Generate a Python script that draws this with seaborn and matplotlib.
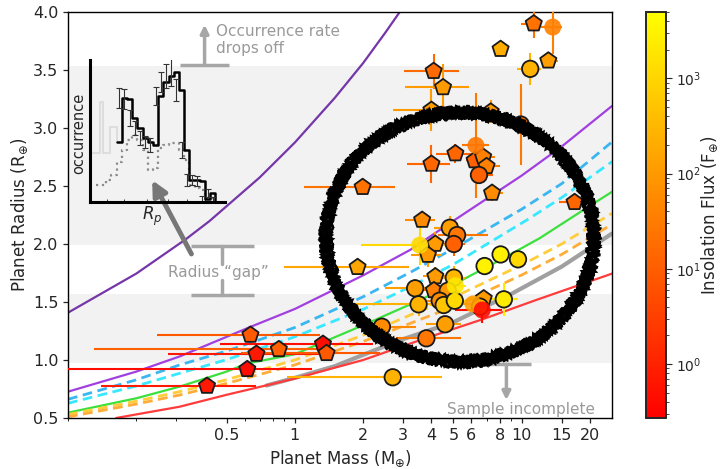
import matplotlib
matplotlib.use("Agg")
import matplotlib.pyplot as plt
import seaborn as sns
import pandas as pd
from matplotlib.colors import LogNorm
from matplotlib.cm import ScalarMappable
from matplotlib.patches import Ellipse
from matplotlib.ticker import FixedLocator, FixedFormatter, NullFormatter, LogLocator, LogFormatterMathtext

sns.set_style("ticks")
plt.rcParams["font.family"] = ["DejaVu Sans"]
plt.rcParams["mathtext.fontset"] = "dejavusans"

# ---------------- planets (mass in M_earth, radius in R_earth, flux in S_earth) ----------------
# pentagons, black edge
pent_mass = [11.3, 8.07, 13.1, 4.09, 4.5, 4.0, 7.3, 5.1, 4.0, 6.2, 6.76, 7.0, 7.4, 17.1, 1.99,
             1.89, 3.64, 4.16, 3.86, 4.16, 4.1, 6.8, 0.637, 0.677, 0.85, 0.617, 0.41, 1.33, 1.38]
pent_radius = [3.90, 3.68, 3.58, 3.49, 3.35, 3.155, 3.14, 2.78, 2.69, 2.72, 2.75, 2.67, 2.44, 2.36, 2.49,
               1.80, 2.207, 2.0, 1.905, 1.72, 1.60, 1.53, 1.216, 1.052, 1.092, 0.92, 0.776, 1.138, 1.058]
pent_flux = [22, 200, 120, 17, 100, 100, 100, 14, 14, 11, 37, 37, 60, 14, 22,
             160, 60, 100, 100, 100, 37, 100, 8.3, 0.72, 11, 0.44, 0.72, 0.44, 8.3]
pent_mass_lo = [1.4, 0, 1.0, 1.07, 1.43, 1.28, 0.8, 0.9, 0.88, 0.5, 0.6, 0.5, 0.6, 2.5, 0.89,
                0.99, 0.57, 0.5, 0.6, 0.5, 0.6, 0.8, 0.39, 0.4, 0.72, 0.517, 0.27, 0.86, 0.8]
pent_mass_hi = [0.9, 0, 1.3, 1.19, 1.34, 1.38, 0.8, 0.9, 0.85, 0.5, 0.9, 1.0, 0.9, 2.5, 0.78,
                1.3, 0.52, 0.5, 0.6, 0.5, 0.6, 0.8, 0.65, 0.6, 0.44, 0.57, 0.267, 0.88, 1.0]
pent_radius_err = [0.12, 0, 0.06, 0.15, 0.2, 0.18, 0.1, 0.08, 0.16, 0.1, 0.1, 0.07, 0.07, 0.05, 0.05,
                   0.05, 0.06, 0.1, 0.1, 0.08, 0.08, 0.06, 0.04, 0.03, 0.03, 0.03, 0.03, 0.03, 0.03]

# circles, black edge
circ_mass = [10.9, 9.9, 6.48, 4.82, 5.19, 5.02, 5.02, 6.86, 8.07, 9.63, 3.39, 4.72, 3.51, 4.35,
             4.53, 5.07, 6.54, 8.34, 4.6, 3.8, 2.42, 2.7]
circ_radius = [3.51, 3.03, 2.595, 2.14, 2.077, 2.0, 1.71, 1.81, 1.91, 1.868, 1.618, 1.597, 1.48, 1.511,
               1.474, 1.511, 1.46, 1.523, 1.308, 1.187, 1.287, 0.851]
circ_flux = [263, 27, 11, 120, 27, 11, 320, 3000, 3000, 1140, 120, 100, 263, 60,
             500, 1140, 500, 2270, 120, 27, 60, 263]
circ_mass_lo = [1.4, 0.9, 0.5, 0.7, 0.9, 0.6, 0.6, 0.5, 0.6, 0.7, 0.9, 0.6, 1.9, 0.6,
                0.6, 0.6, 0.5, 1.2, 0.8, 1.0, 0.5, 1.78]
circ_mass_hi = [1.2, 1.1, 1.0, 0.7, 1.9, 0.6, 0.6, 0.5, 0.6, 0.7, 0.9, 0.6, 1.0, 0.6,
                0.6, 0.6, 0.5, 1.3, 0.8, 1.6, 1.0, 1.75]
circ_radius_err = [0.14, 0.35, 0.08, 0.1, 0.1, 0.1, 0.1, 0.05, 0.05, 0.05, 0.08, 0.08, 0.1, 0.08,
                   0.08, 0.08, 0.05, 0.14, 0.05, 0.05, 0.05, 0.02]

# circles without edge
bare_mass = [13.7, 6.28, 3.55, 5.1, 6.1, 6.7]
bare_radius = [3.87, 2.85, 1.99, 1.64, 1.483, 1.431]
bare_flux = [37, 27, 1140, 2000, 120, 0.44]
bare_mass_lo = [1.6, 0.8, 1.6, 0.6, 0.6, 1.6]
bare_mass_hi = [1.4, 0.9, 1.8, 0.6, 0.6, 1.5]
bare_radius_err = [0.23, 0.45, 0.17, 0.08, 0.06, 0.11]

# ---------------- composition curves ----------------
h2_env_m = [0.1, 0.2, 0.33, 0.42, 0.7, 1.0, 1.5, 2.0, 2.5, 3.2]
h2_env_r = [1.408, 1.745, 2.04, 2.197, 2.574, 2.875, 3.26, 3.56, 3.82, 4.12]
water_m = [0.1, 0.2, 0.31, 0.64, 1.0, 2.0, 3.23, 5.0, 10, 15, 25]
water_r = [0.727, 0.90, 1.03, 1.287, 1.44, 1.73, 1.95, 2.20, 2.59, 2.84, 3.19]
w50_m = [0.1, 0.2, 0.31, 0.5, 1.0, 2.0, 3.23, 5.0, 10, 15, 25]
w50_r = [0.661, 0.829, 0.957, 1.077, 1.28, 1.545, 1.756, 1.96, 2.30, 2.52, 2.88]
w25_m = [0.1, 0.2, 0.31, 0.5, 1.0, 2.0, 3.23, 5.0, 10.6, 15, 25]
w25_r = [0.627, 0.776, 0.885, 1.003, 1.20, 1.437, 1.632, 1.825, 2.21, 2.40, 2.71]
rock_m = [0.1, 0.2, 0.31, 0.5, 0.617, 1.0, 2.0, 3.23, 5, 8, 12, 18.6, 25]
rock_r = [0.546, 0.67, 0.77, 0.90, 0.97, 1.05, 1.30, 1.48, 1.65, 1.86, 2.05, 2.29, 2.45]
fe50_m = [0.1, 0.2, 0.31, 0.5, 1.0, 2.0, 3.23, 5, 10, 15, 25]
fe50_r = [0.53, 0.645, 0.727, 0.83, 1.0, 1.214, 1.388, 1.54, 1.82, 2.0, 2.265]
fe70_m = [0.1, 0.2, 0.31, 0.5, 1.0, 2.0, 3.23, 5, 10, 15, 25]
fe70_r = [0.51, 0.62, 0.698, 0.798, 0.958, 1.16, 1.316, 1.46, 1.733, 1.91, 2.17]
strip_m = [0.75, 1.0, 1.5, 2.9, 5, 9, 15, 25]
strip_r = [0.78, 0.846, 0.947, 1.17, 1.326, 1.57, 1.805, 2.09]
iron_m = [0.163, 0.31, 0.5, 1.0, 2.0, 3.8, 6.7, 11.3, 25.2]
iron_r = [0.50, 0.597, 0.70, 0.84, 1.0, 1.19, 1.35, 1.51, 1.747]

# ---------------- inset occurrence histogram ----------------
occ_edges = list(range(0, 20))
occ_values = [104, 102.7, 83.7, 73.7, 63.7, 59.7, 56.7, 106, 119.7, 125.7, 129.7, 111.7, 51.7,
              21.7, 21.7, 20.7, 2.7, 9, 1.7]
occ_start = 60
occ_err = [10, 10, 8, 7, 7, 6, 7, 9, 10, 12, 14, 11, 8, 6, 5, 5, 3, 4, 3]
raw_edges = list(range(-4, 20))
raw_values = [16.7, 21.7, 26.7, 39.7, 51.7, 61.7, 66.7, 61.7, 51.7, 31.7, 33.7, 53.7, 56.7,
              58.7, 58.7, 51.7, 41.7, 16.7, 13.7, 11.7, 3.7, 3.7, 1.7]
cut_edges = [-4.5, -3.21, -2.58, -1.29, 0.0]
cut_values = [100, 48.7, 75, 60]
cut_start = 48.7

W, H = 721, 469
fig = plt.figure(figsize=(W / 100, H / 100), dpi=100)
ax = fig.add_axes([68 / W, 1 - 418 / H, 544 / W, 406 / H])
cax = fig.add_axes([645.7 / W, 1 - 418 / H, 20 / W, 406 / H])

cmap = plt.get_cmap("autumn")
norm = LogNorm(vmin=0.27, vmax=5000)

ax.set_xscale("log")
ax.set_xlim(0.1, 25)
ax.set_ylim(0.5, 4.0)

# shaded radius bands
ax.axhspan(0.977, 1.569, color="#f2f2f2", zorder=0, lw=0)
ax.axhspan(1.99, 3.537, color="#f2f2f2", zorder=0, lw=0)

# composition curves
ax.plot(h2_env_m, h2_env_r, color="#7436a8", lw=1.6, zorder=2)
ax.plot(water_m, water_r, color="#a23fe0", lw=1.6, zorder=2)
ax.plot(w50_m, w50_r, color="#3ab6f0", lw=2.0, ls=(0, (3.5, 2)), zorder=2)
ax.plot(w25_m, w25_r, color="#38e8ff", lw=2.0, ls=(0, (3.5, 2)), zorder=2)
ax.plot(rock_m, rock_r, color="#3ce03c", lw=1.6, zorder=2)
ax.plot(fe50_m, fe50_r, color="#ffcc3a", lw=2.0, ls=(0, (3.5, 2)), zorder=2)
ax.plot(fe70_m, fe70_r, color="#ffad38", lw=2.0, ls=(0, (3.5, 2)), zorder=2)
ax.plot(strip_m, strip_r, color="#a0a0a0", lw=3.0, zorder=2)
ax.plot(iron_m, iron_r, color="#ff3b3b", lw=1.6, zorder=2)

# error bars, coloured by insolation
def draw_errors(m, r, f, mlo, mhi, rerr):
    for i in range(len(m)):
        c = cmap(norm(f[i]))
        ax.errorbar(m[i], r[i], xerr=[[mlo[i]], [mhi[i]]], yerr=rerr[i], fmt="none",
                    ecolor=c, elinewidth=1.5, capsize=0, zorder=3)

draw_errors(pent_mass, pent_radius, pent_flux, pent_mass_lo, pent_mass_hi, pent_radius_err)
draw_errors(circ_mass, circ_radius, circ_flux, circ_mass_lo, circ_mass_hi, circ_radius_err)
draw_errors(bare_mass, bare_radius, bare_flux, bare_mass_lo, bare_mass_hi, bare_radius_err)

pent_df = pd.DataFrame({"mass": pent_mass, "radius": pent_radius, "flux": pent_flux})
circ_df = pd.DataFrame({"mass": circ_mass, "radius": circ_radius, "flux": circ_flux})
bare_df = pd.DataFrame({"mass": bare_mass, "radius": bare_radius, "flux": bare_flux})

sns.scatterplot(data=pent_df, x="mass", y="radius", hue="flux", hue_norm=norm, palette="autumn",
                marker="p", s=150, edgecolor="#1a1a1a", linewidth=1.3, legend=False, ax=ax, zorder=5)
sns.scatterplot(data=circ_df, x="mass", y="radius", hue="flux", hue_norm=norm, palette="autumn",
                marker="o", s=140, edgecolor="#1a1a1a", linewidth=1.3, legend=False, ax=ax, zorder=5)
sns.scatterplot(data=bare_df, x="mass", y="radius", hue="flux", hue_norm=norm, palette="autumn",
                marker="o", s=150, edgecolor="none", linewidth=0, alpha=0.9, legend=False, ax=ax, zorder=5)

# hand-drawn ring: a band of rough strokes
ring_cx, ring_cy, ring_w, ring_h = 0.7206, 0.4458, 0.4926, 0.6133
ax_w_px, ax_h_px = 544.0, 406.0
for off in [-5.0, -3.5, -2.0, -0.7, 0.7, 2.0, 3.5, 5.0]:
    ring = Ellipse((ring_cx, ring_cy), ring_w + 2 * off / ax_w_px, ring_h + 2 * off / ax_h_px,
                   transform=ax.transAxes, fill=False, ec="black", lw=1.7, zorder=10)
    ring.set_sketch_params(scale=1.8, length=1.5, randomness=3.0)
    ax.add_patch(ring)

# annotations
ann_gray = "#a6a6a6"
txt_gray = "#9a9a9a"
ax.plot([0.313, 0.515], [3.54, 3.54], color=ann_gray, lw=2.5, zorder=4, solid_capstyle="butt")
ax.annotate("", xy=(0.40, 3.89), xytext=(0.40, 3.54),
            arrowprops=dict(arrowstyle="-|>", color=ann_gray, lw=2.5, mutation_scale=12,
                            shrinkA=0, shrinkB=0), zorder=4)
ax.text(0.447, 3.76, "Occurrence rate\ndrops off", color=txt_gray, fontsize=11,
        ha="left", va="center", linespacing=1.15, zorder=4)

ax.plot([0.347, 0.659], [1.985, 1.985], color=ann_gray, lw=2.5, zorder=4, solid_capstyle="butt")
ax.plot([0.347, 0.659], [1.56, 1.56], color=ann_gray, lw=2.5, zorder=4, solid_capstyle="butt")
ax.plot([0.475, 0.475], [1.985, 1.83], color=ann_gray, lw=2.5, zorder=4)
ax.plot([0.475, 0.475], [1.69, 1.56], color=ann_gray, lw=2.5, zorder=4)
ax.text(0.461, 1.756, "Radius \u201cgap\u201d", color=txt_gray, fontsize=11,
        ha="center", va="center", zorder=4)
ax.annotate("", xy=(0.235, 2.55), xytext=(0.35, 1.914),
            arrowprops=dict(arrowstyle="-|>", color="#777777", lw=3.5, mutation_scale=22,
                            shrinkA=0, shrinkB=0), zorder=6)

ax.plot([6.63, 11.04], [0.963, 0.963], color=ann_gray, lw=2.5, zorder=4, solid_capstyle="butt")
ax.annotate("", xy=(8.56, 0.655), xytext=(8.56, 0.963),
            arrowprops=dict(arrowstyle="-|>", color=ann_gray, lw=2.5, mutation_scale=12,
                            shrinkA=0, shrinkB=0), zorder=4)
ax.text(9.9, 0.575, "Sample incomplete", color=txt_gray, fontsize=11,
        ha="center", va="center", zorder=4)

# axes styling
mass_ticks = [0.5, 1, 2, 3, 4, 5, 6, 8, 10, 15, 20]
mass_tick_labels = ["0.5", "1", "2", "3", "4", "5", "6", "8", "10", "15", "20"]
ax.xaxis.set_major_locator(FixedLocator(mass_ticks))
ax.xaxis.set_major_formatter(FixedFormatter(mass_tick_labels))
ax.xaxis.set_minor_locator(LogLocator(base=10, subs=(0.2, 0.3, 0.4, 0.6, 0.7, 0.8, 0.9, 1.0)))
ax.xaxis.set_minor_formatter(NullFormatter())
radius_ticks = [0.5, 1.0, 1.5, 2.0, 2.5, 3.0, 3.5, 4.0]
ax.set_yticks(radius_ticks)
ax.set_yticklabels([f"{t:.1f}" for t in radius_ticks])
ax.tick_params(axis="both", which="major", labelsize=11.5, length=3.5, width=0.9, direction="out")
ax.tick_params(axis="x", which="minor", length=2, width=0.7)
ax.set_xlabel("Planet Mass (M$_{\\oplus}$)", fontsize=12, labelpad=4)
ax.set_ylabel("Planet Radius (R$_{\\oplus}$)", fontsize=12, labelpad=2)
for s in ax.spines.values():
    s.set_visible(True)
    s.set_linewidth(1.0)
    s.set_color("black")

# colour bar
sm = ScalarMappable(norm=norm, cmap=cmap)
cb = fig.colorbar(sm, cax=cax)
cb.outline.set_linewidth(1.4)
cb.set_ticks([1, 10, 100, 1000])
cb.ax.yaxis.set_major_formatter(LogFormatterMathtext())
cb.ax.tick_params(which="major", labelsize=10, length=4, width=0.8)
cb.ax.tick_params(which="minor", length=2.5, width=0.6)
cb.ax.set_ylabel("Insolation Flux (F$_{\\oplus}$)", fontsize=12, rotation=90, va="center", ha="center")
cb.ax.yaxis.set_label_coords(3.2, 0.5)

# inset: occurrence vs planet size
ins = fig.add_axes([90 / W, 1 - 201.7 / H, 135 / W, 141.7 / H])
ins.patch.set_alpha(0)
ins.set_xlim(-5.13, 20.83)
ins.set_ylim(0, 141.7)
for side in ["top", "right"]:
    ins.spines[side].set_visible(False)
for side in ["left", "bottom"]:
    ins.spines[side].set_linewidth(2.2)
    ins.spines[side].set_color("black")
ins.set_yticks([])
ins.set_xticks([-1.9, 1.5, 5.8, 9.8, 13.5, 17.0])
ins.tick_params(axis="x", direction="in", length=2, width=0.6, labelbottom=False)

ins.step(cut_edges, [cut_start] + cut_values, where="post", color="#dddddd", lw=1.5)
ins.step(raw_edges, raw_values[:1] + raw_values, where="post", color="#8c8c8c", lw=1.6, ls=":")
ins.step(occ_edges, [occ_start] + occ_values, where="post", color="black", lw=1.8)
occ_centres = [e + 0.5 for e in occ_edges[:-1]]
ins.errorbar(occ_centres, occ_values, yerr=occ_err, fmt="none", ecolor="#333333",
             elinewidth=0.8, capsize=2, capthick=0.8)

fig.text(79 / W, 1 - 133 / H, "occurrence", rotation=90, ha="center", va="center", fontsize=10.5)
fig.text(151.7 / W, 1 - 216.7 / H, "$R_p$", ha="center", va="center", fontsize=12)

fig.savefig("out.png", dpi=100)
